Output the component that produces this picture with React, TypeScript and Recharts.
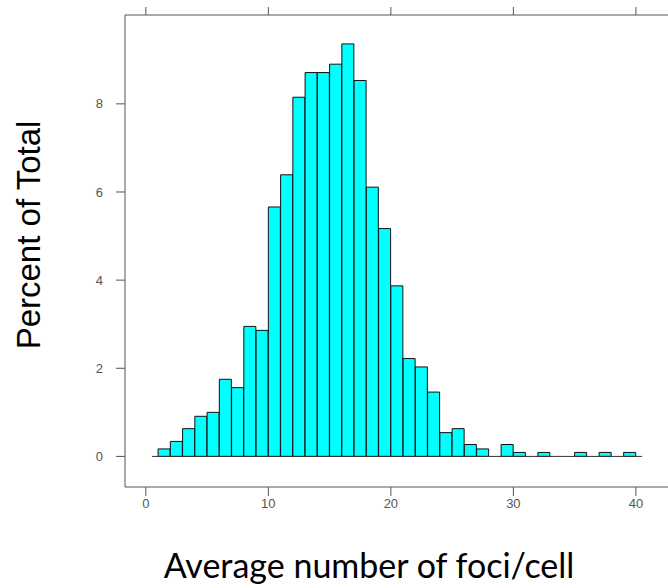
import { Bar, ComposedChart, ReferenceLine, XAxis, YAxis } from "recharts";

// histogram bins: lower edge of each 1-wide bin
const binLower = [
  1, 2, 3, 4, 5, 6, 7, 8, 9, 10, 11, 12, 13, 14, 15, 16, 17, 18, 19, 20,
  21, 22, 23, 24, 25, 26, 27, 28, 29, 30, 31, 32, 33, 34, 35, 36, 37, 38, 39,
];
const percentOfTotal = [
  0.17, 0.34, 0.63, 0.91, 1.0, 1.75, 1.56, 2.95, 2.86, 5.66, 6.39, 8.15, 8.71,
  8.71, 8.9, 9.36, 8.53, 6.11, 5.17, 3.87, 2.22, 2.03, 1.46, 0.54, 0.63, 0.27,
  0.17, 0, 0.27, 0.09, 0, 0.09, 0, 0, 0.09, 0, 0.09, 0, 0.09,
];
const xTicks = [0, 10, 20, 30, 40];
const yTicks = [0, 2, 4, 6, 8];

const rows = binLower.map((lo, i) => ({ mid: lo + 0.5, pct: percentOfTotal[i] }));

const axisColor = "#555";
const tickStyle = { fill: "#555", fontSize: 13, fontFamily: "Liberation Sans, Arial, sans-serif" };

export default function App() {
  return (
    <div style={{ position: "absolute", left: 0, top: 0, width: 668, height: 588, overflow: "hidden", background: "#fff" }}>
      <ComposedChart
        width={680}
        height={588}
        data={rows}
        margin={{ top: 0, right: 0, bottom: 0, left: 0 }}
        barCategoryGap={0}
        barGap={0}
      >
        <XAxis
          xAxisId="bottom"
          dataKey="mid"
          type="number"
          domain={[-1.7, 43.6]}
          ticks={xTicks}
          allowDataOverflow
          height={101}
          tickSize={9}
          tickMargin={3}
          stroke={axisColor}
          tick={tickStyle}
        />
        <XAxis
          xAxisId="top"
          orientation="top"
          dataKey="mid"
          type="number"
          domain={[-1.7, 43.6]}
          ticks={xTicks}
          allowDataOverflow
          height={15}
          tickSize={8}
          tickFormatter={() => ""}
          stroke={axisColor}
        />
        <YAxis
          type="number"
          domain={[-0.694, 10.016]}
          ticks={yTicks}
          allowDataOverflow
          width={125}
          tickSize={9}
          tickMargin={13}
          stroke={axisColor}
          tick={tickStyle}
        />
        <Bar
          xAxisId="bottom"
          dataKey="pct"
          fill="#00FFFF"
          stroke="#111"
          strokeWidth={1}
          isAnimationActive={false}
        />
        <ReferenceLine
          xAxisId="bottom"
          segment={[{ x: 0.5, y: 0 }, { x: 40.5, y: 0 }]}
          stroke="#333"
        />
      </ComposedChart>
      <div
        style={{
          position: "absolute",
          left: 29,
          top: 235,
          transform: "translate(-50%, -50%) rotate(-90deg)",
          whiteSpace: "nowrap",
          fontFamily: "Liberation Sans, Arial, sans-serif",
          fontSize: 33,
          color: "#000",
        }}
      >
        Percent of Total
      </div>
      <div
        style={{
          position: "absolute",
          left: 369,
          top: 564,
          transform: "translate(-50%, -50%)",
          whiteSpace: "nowrap",
          fontFamily: "Lato, sans-serif",
          fontSize: 34,
          color: "#000",
        }}
      >
        Average number of foci/cell
      </div>
    </div>
  );
}
